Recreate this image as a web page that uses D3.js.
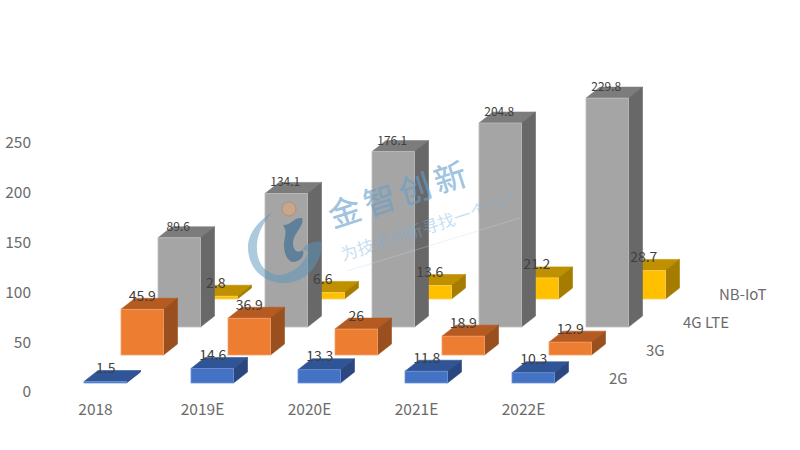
<!DOCTYPE html>
<html><head><meta charset="utf-8">
<script src="https://cdn.jsdelivr.net/npm/d3@7/dist/d3.min.js"></script>
<style>html,body{margin:0;padding:0;background:#fff}svg{display:block}text{font-family:"Noto Sans CJK SC","Noto Sans",sans-serif}</style>
</head><body><svg id="c" width="800" height="450"></svg>
<script>
const categories = ["2018","2019E","2020E","2021E","2022E"];
const seriesNames = ["2G","3G","4G LTE","NB-IoT"];
const values2G = [1.5,14.6,13.3,11.8,10.3];
const values3G = [45.9,36.9,26,18.9,12.9];
const values4G = [89.6,134.1,176.1,204.8,229.8];
const valuesNB = [2.8,6.6,13.6,21.2,28.7];
const yTicks = [0,50,100,150,200,250];
const seriesValues = [values2G,values3G,values4G,valuesNB];
const palette = [
  {front:"#4472C4",top:"#2F5597",side:"#2A4780",edge:"#6f93d6"},
  {front:"#ED7D31",top:"#B55A20",side:"#9A501E",edge:"#f4a06a"},
  {front:"#A5A5A5",top:"#7C7C7C",side:"#686868",edge:"#bdbdbd"},
  {front:"#FFC000",top:"#BF9000",side:"#A67C00",edge:"#f5d060"}
];
const labelSize = [14,14,12,14];
const labelLift = [14.5,14.5,12.5,14.5];
const labelShift = [0.5,0,-1,-0.5];
const svg = d3.select("#c");
const x = d3.scalePoint().domain(categories).range([84,512]);
const offX = d3.scalePoint().domain(seriesNames).range([0,111]);
const offY = d3.scalePoint().domain(seriesNames).range([383,299]);
const h = d3.scaleLinear().domain([0,250]).range([0,249]);
const axisY = d3.scaleLinear().domain([0,250]).range([392,143]);
const barW = 42.5, depthX = 14, depthY = 11;
const textColor = "#6b6b6b";

const ya = svg.append("g").attr("transform","translate(31,0)")
  .call(d3.axisLeft(axisY).tickValues(yTicks).tickSize(0).tickPadding(0));
ya.select(".domain").remove();
ya.selectAll("text").style("font-family",'"Noto Sans CJK SC"').style("font-size","15.5px").attr("fill",textColor);

const xa = svg.append("g").attr("transform","translate(11,404)")
  .call(d3.axisBottom(x).tickSize(0).tickPadding(0));
xa.select(".domain").remove();
xa.selectAll("text").style("font-family",'"Noto Sans CJK SC"').style("font-size","15.5px").attr("fill",textColor);

const order = [3,2,1,0];
order.forEach(si=>{
  const name = seriesNames[si], c = palette[si];
  const g = svg.append("g");
  const bars = g.selectAll("g").data(seriesValues[si].map((v,i)=>({v,cat:categories[i]}))).join("g");
  const X = d=>x(d.cat)+offX(name), B = offY(name), T = d=>B-h(d.v);
  bars.append("path").attr("fill",c.top).attr("stroke",c.top).attr("stroke-width",.6)
    .attr("d",d=>`M${X(d)},${T(d)}L${X(d)+depthX},${T(d)-depthY}L${X(d)+barW+depthX},${T(d)-depthY}L${X(d)+barW},${T(d)}Z`);
  bars.append("path").attr("fill",c.side).attr("stroke",c.side).attr("stroke-width",.6)
    .attr("d",d=>`M${X(d)+barW},${T(d)}L${X(d)+barW+depthX},${T(d)-depthY}L${X(d)+barW+depthX},${B-depthY}L${X(d)+barW},${B}Z`);
  bars.append("rect").attr("x",X).attr("y",T).attr("width",barW).attr("height",d=>h(d.v))
    .attr("fill",c.front).attr("stroke",c.edge).attr("stroke-width",.8);
});

// watermark
const wm = svg.append("g");
wm.append("path").attr("fill","rgba(90,150,190,0.5)")
  .attr("d","M273,212C256,222 248,235 248,247C248,270 265,283 285,283C305,283 322,265 322,242C315,240 306,244 303,249L308,252C303,267 288,276 277,275C262,272 256,260 257,244C258,232 264,221 273,212Z");
wm.append("path").attr("fill","rgba(50,105,145,0.62)")
  .attr("d","M283,225C290,226 294,217 302,218C305,226 293,233 293,243C293,250 297,254 303,250C305,258 298,262 293,262C287,261 284,253 284,245C284,238 288,232 283,225Z");
wm.append("circle").attr("cx",289).attr("cy",209).attr("r",7).attr("fill","#c8a68c").attr("stroke","#b98c70").attr("stroke-width",1);
wm.append("line").attr("x1",347).attr("y1",271).attr("x2",520).attr("y2",218).attr("stroke","rgba(200,215,225,0.35)").attr("stroke-width",1);
wm.append("text").attr("transform","translate(333,228) rotate(-18)")
  .attr("fill","rgba(100,160,205,0.62)").attr("stroke","rgba(100,160,205,0.4)").attr("stroke-width",.5)
  .style("font-size","32px").style("letter-spacing","5px").text("金智创新");
wm.append("text").attr("transform","translate(343,261) rotate(-17.8)")
  .attr("fill","rgba(120,175,220,0.42)").style("font-size","17px").text("为技术创新寻找一个 \"+\"");

order.forEach(si=>{
  const name = seriesNames[si];
  svg.append("g").selectAll("text").data(seriesValues[si].map((v,i)=>({v,cat:categories[i]}))).join("text")
    .attr("x",d=>x(d.cat)+offX(name)+barW/2+labelShift[si])
    .attr("y",d=>offY(name)-h(d.v)-labelLift[si])
    .attr("text-anchor","middle").attr("dominant-baseline","central")
    .attr("fill","#404040").style("font-size",labelSize[si]+"px").text(d=>d.v);
});

svg.append("g").selectAll("text").data(seriesNames).join("text")
  .attr("x",d=>609+offX(d)-(d==="NB-IoT"?1:0)).attr("y",d=>offY(d)-6)
  .attr("dominant-baseline","central").attr("fill",textColor).style("font-size","15px").text(d=>d);
</script></body></html>
